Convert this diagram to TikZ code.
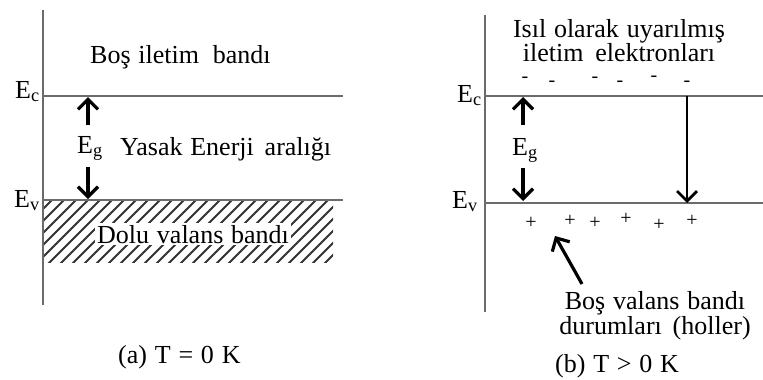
\documentclass[tikz,border=0pt]{standalone}
\usepackage{fontspec}
\setmainfont[WordSpace=1.2]{Liberation Serif}
\usepackage{tikz}
\usetikzlibrary{arrows.meta, positioning}

\begin{document}
\begin{tikzpicture}[x=1pt, y=-1pt, >={Straight Barb[length=10pt, width=20pt]},
    every node/.style={font=\fontsize{26}{27}\selectfont, inner sep=0pt},
    bandline/.style={draw=black!58, line width=2.2pt},
    gaparrow/.style={->, line width=3.2pt},
    hatchline/.style={draw=black!80, line width=1.8pt},
    charge/.style={font=\fontsize{20}{20}\selectfont}]
    \useasboundingbox (0,0) rectangle (763,380);

    % (a) T = 0 K
    \draw[bandline] (43,10) -- (43,305);
    \coordinate (ECa0) at (44,96);  \coordinate (ECa1) at (343,96);
    \coordinate (EVa0) at (44,200); \coordinate (EVa1) at (343,200);
    \begin{scope}
        \clip (44,201) rectangle (333,262);
        \foreach \x in {-60,-48,...,336} \draw[hatchline] (\x,264) -- ++(66,-66);
    \end{scope}
    \draw[bandline] (ECa0) -- (ECa1);
    \draw[bandline] (EVa0) -- (EVa1);

    \node[anchor=base west] (ECa) at (15,98) {E\textsubscript{c}};
    \node[anchor=base west] (EVa) at (14,207) {E\textsubscript{v}};
    \node[anchor=base west] (EGa) at (77,153) {E\textsubscript{g}};
    \node[anchor=base west] (empty) at (90,63) {Boş iletim\hspace{6pt} bandı};
    \node[anchor=base west] (gap) at (120,155) {Yasak Enerji\hspace{3pt} aralığı};
    \node[anchor=base west, fill=white, inner sep=2pt] (filled) at (95,243) {Dolu valans bandı};
    \node[anchor=base west] (capa) at (118,363) {(a) T = 0 K};

    \coordinate (ga1) at (88,125); \coordinate (ga2) at (88,97);
    \coordinate (ga3) at (88,167); \coordinate (ga4) at (88,199);
    \draw[gaparrow] (ga1) -- (ga2);
    \draw[gaparrow] (ga3) -- (ga4);

    % (b) T > 0 K
    \draw[bandline] (485,15) -- (485,312);
    \coordinate (ECb0) at (485,96);  \coordinate (ECb1) at (763,96);
    \coordinate (EVb0) at (485,203); \coordinate (EVb1) at (763,203);
    \draw[bandline] (ECb0) -- (ECb1);
    \draw[bandline] (EVb0) -- (EVb1);

    \node[anchor=base west] (ECb) at (457,102) {E\textsubscript{c}};
    \node[anchor=base west] (EVb) at (452,208) {E\textsubscript{v}};
    \node[anchor=base west] (EGb) at (512,155) {E\textsubscript{g}};
    \node[align=center] (excited) at (619,41) {Isıl olarak uyarılmış\\[-3pt]iletim\hspace{4pt} elektronları};
    \node[align=center, font=\fontsize{26}{23}\selectfont] (holes) at (655,316) {Boş valans bandı\\durumları\hspace{3pt} (holler)};
    \node[anchor=base west] (capb) at (555,372) {(b) T > 0 K};

    % electrons and holes
    \node[charge] (e1) at (525,80) {-};
    \node[charge] (e2) at (552,84) {-};
    \node[charge] (e3) at (595,80) {-};
    \node[charge] (e4) at (620,84) {-};
    \node[charge] (e5) at (654,79) {-};
    \node[charge] (e6) at (687,84) {-};
    \node[charge] (h1) at (531,223) {+};
    \node[charge] (h2) at (570,221) {+};
    \node[charge] (h3) at (595,223) {+};
    \node[charge] (h4) at (626,219) {+};
    \node[charge] (h5) at (659,225) {+};
    \node[charge] (h6) at (692,221) {+};

    \coordinate (gb1) at (523,125); \coordinate (gb2) at (523,97);
    \coordinate (gb3) at (523,168); \coordinate (gb4) at (523,201);
    \draw[gaparrow] (gb1) -- (gb2);
    \draw[gaparrow] (gb3) -- (gb4);
    \draw[gaparrow, line width=2.8pt] (ECb1 -| e6) -- (EVb1 -| e6);
    \coordinate (hb1) at (582,284); \coordinate (hb2) at (555,236);
    \draw[gaparrow] (hb1) -- (hb2);
\end{tikzpicture}
\end{document}
